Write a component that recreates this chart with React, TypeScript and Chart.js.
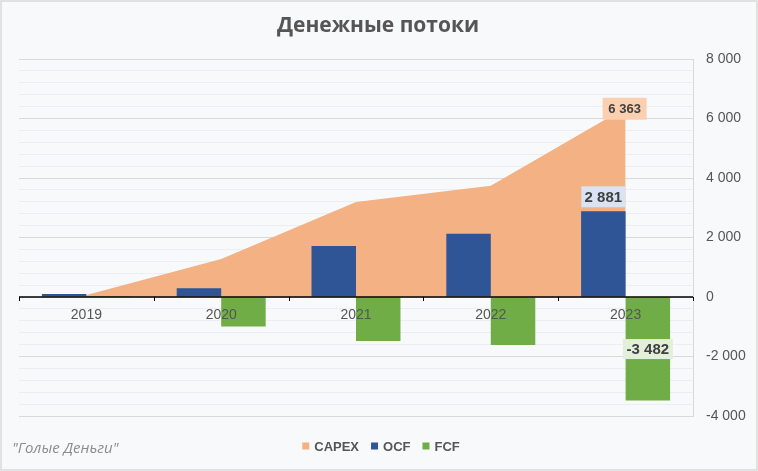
import React, { useEffect, useRef } from 'react';
import { Chart, registerables } from 'chart.js';

Chart.register(...registerables);

const years = ['2019', '2020', '2021', '2022', '2023'];
const capex = [70, 1280, 3190, 3740, 6363];
const ocf = [100, 290, 1715, 2130, 2881];
const fcf = [30, -990, -1475, -1610, -3482];
const seriesNames = ['CAPEX', 'OCF', 'FCF'];
const seriesColors = ['#f4b183', '#2f5597', '#70ad47'];
const labelBoxColors = ['#fbd0b0', '#dae3f3', '#e2efda'];
const labelIndex = 4;
const titleText = 'Денежные потоки';
const watermarkText = '"Голые Деньги"';
const yMin = -4000;
const yMax = 8000;
const majorStep = 2000;
const minorStep = 400;

const fmt = (n: number) => {
  const s = Math.abs(Math.round(n)).toString().replace(/\B(?=(\d{3})+(?!\d))/g, ' ');
  return (n < 0 ? '-' : '') + s;
};

const SANS = '"Liberation Sans", Arial, sans-serif';
const TEXT = '#555555';

const decorPlugin = {
  id: 'decor',
  beforeDraw(chart: any) {
    const { ctx, width, height } = chart;
    ctx.save();
    ctx.fillStyle = '#f8f9fb';
    ctx.fillRect(0, 0, width, height);
    ctx.restore();
  },
  afterDatasetsDraw(chart: any) {
    const { ctx } = chart;
    const xs = chart.scales.x;
    const ys = chart.scales.y;
    const y0 = ys.getPixelForValue(0);
    ctx.save();
    // axis line
    ctx.strokeStyle = '#000000';
    ctx.lineWidth = 1.5;
    ctx.beginPath();
    ctx.moveTo(xs.left, y0);
    ctx.lineTo(xs.right, y0);
    ctx.stroke();
    // tick marks at category boundaries
    ctx.lineWidth = 1;
    const n = years.length;
    for (let k = 0; k <= n; k++) {
      const x = Math.round(xs.left + ((xs.right - xs.left) * k) / n) + 0.5;
      ctx.beginPath();
      ctx.moveTo(x, y0);
      ctx.lineTo(x, y0 + 4);
      ctx.stroke();
    }
    // category labels
    ctx.fillStyle = TEXT;
    ctx.font = `14px ${SANS}`;
    ctx.textAlign = 'center';
    ctx.textBaseline = 'middle';
    years.forEach((lab, i) => {
      ctx.fillText(lab, xs.getPixelForValue(i), y0 + 18);
    });
    // data labels
    const drawBox = (text: string, cx: number, cy: number, font: string, bg: string, w: number, h: number) => {
      ctx.fillStyle = bg;
      ctx.fillRect(cx - w / 2, cy - h / 2, w, h);
      ctx.fillStyle = '#404040';
      ctx.font = font;
      ctx.textAlign = 'center';
      ctx.textBaseline = 'middle';
      ctx.fillText(text, cx, cy + 1);
    };
    const pCapex = chart.getDatasetMeta(0).data[labelIndex];
    drawBox(fmt(capex[labelIndex]), pCapex.x - 1, pCapex.y + 1, `bold 13px ${SANS}`, labelBoxColors[0], 44, 22);
    const bOcf = chart.getDatasetMeta(1).data[labelIndex];
    drawBox(fmt(ocf[labelIndex]), bOcf.x, bOcf.y - 14.5, `bold 15px ${SANS}`, labelBoxColors[1], 44, 21);
    const bFcf = chart.getDatasetMeta(2).data[labelIndex];
    drawBox(fmt(fcf[labelIndex]), bFcf.x, (bFcf.y + bFcf.base) / 2, `bold 15px ${SANS}`, labelBoxColors[2], 50, 20);
    ctx.restore();
  },
  afterDraw(chart: any) {
    const { ctx, width, height } = chart;
    ctx.save();
    // title
    ctx.fillStyle = TEXT;
    ctx.font = `bold 21px "Open Sans", ${SANS}`;
    ctx.textAlign = 'center';
    ctx.textBaseline = 'middle';
    ctx.fillText(titleText, 378, 26);
    // legend
    ctx.font = `bold 13px ${SANS}`;
    const box = 7;
    const gapMarker = 5;
    const gapItem = 12;
    const widths = seriesNames.map((s) => ctx.measureText(s).width);
    const total = widths.reduce((a, w) => a + box + gapMarker + w, 0) + gapItem * (seriesNames.length - 1);
    let x = 381 - total / 2;
    const ly = 446;
    ctx.textAlign = 'left';
    seriesNames.forEach((s, i) => {
      ctx.fillStyle = seriesColors[i];
      ctx.fillRect(x, ly - box / 2, box, box);
      x += box + gapMarker;
      ctx.fillStyle = TEXT;
      ctx.fillText(s, x, ly + 1);
      x += widths[i] + gapItem;
    });
    // watermark
    ctx.fillStyle = '#8c8c8c';
    ctx.font = `italic 15px "Open Sans", ${SANS}`;
    ctx.textAlign = 'left';
    ctx.fillText(watermarkText, 12, 449);
    // outer border
    ctx.strokeStyle = '#d9d9d9';
    ctx.lineWidth = 1.5;
    ctx.strokeRect(1, 1, width - 2, height - 2);
    ctx.restore();
  },
};

export default function App() {
  const ref = useRef<HTMLCanvasElement | null>(null);
  useEffect(() => {
    if (!ref.current) return;
    const chart = new Chart(ref.current, {
      type: 'bar',
      data: {
        labels: years,
        datasets: [
          {
            type: 'line',
            label: seriesNames[0],
            data: capex,
            backgroundColor: seriesColors[0],
            borderColor: seriesColors[0],
            borderWidth: 0,
            pointRadius: 0,
            fill: 'origin',
            tension: 0,
            order: 3,
          } as any,
          {
            label: seriesNames[1],
            data: ocf,
            backgroundColor: seriesColors[1],
            borderWidth: 0,
            barPercentage: 1,
            categoryPercentage: 0.66,
            order: 1,
          },
          {
            label: seriesNames[2],
            data: fcf,
            backgroundColor: seriesColors[2],
            borderWidth: 0,
            barPercentage: 1,
            categoryPercentage: 0.66,
            order: 2,
          },
        ],
      },
      options: {
        animation: false,
        responsive: false,
        devicePixelRatio: 1,
        layout: { padding: { left: 19, top: 59, bottom: 55, right: 0 } },
        plugins: {
          legend: { display: false },
          title: { display: false },
          tooltip: { enabled: false },
        },
        scales: {
          x: {
            display: false,
            offset: true,
            grid: { offset: true },
          },
          y: {
            position: 'right',
            min: yMin,
            max: yMax,
            afterFit: (s: any) => {
              s.width = 65;
            },
            border: { display: true, color: '#d9d9d9', width: 1 },
            grid: {
              drawTicks: false,
              lineWidth: 1,
              color: (c: any) =>
                c.tick && Math.abs(c.tick.value % majorStep) === 0 ? '#d9d9d9' : '#eceef1',
            },
            ticks: {
              stepSize: minorStep,
              autoSkip: false,
              padding: 13,
              color: TEXT,
              font: { family: SANS, size: 14 },
              callback: (v: any) => (Math.abs(Number(v) % majorStep) === 0 ? fmt(Number(v)) : ''),
            },
          },
        },
      } as any,
      plugins: [decorPlugin],
    });
    return () => chart.destroy();
  }, []);
  return (
    <div style={{ position: 'absolute', left: 0, top: 0, width: 758, height: 471 }}>
      <canvas ref={ref} width={758} height={471} style={{ display: 'block', width: 758, height: 471 }} />
    </div>
  );
}
